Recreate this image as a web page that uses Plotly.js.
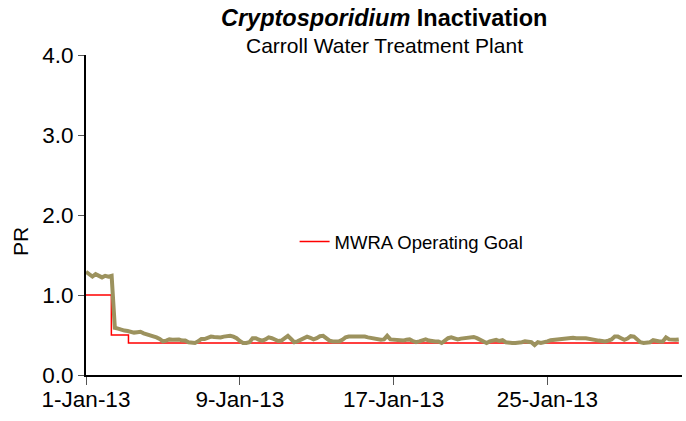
<!DOCTYPE html>
<html>
<head>
<meta charset="utf-8">
<script src="https://cdn.plot.ly/plotly-3.0.1.min.js"></script>
<style>html,body{margin:0;padding:0;background:#fff;}#chart{width:686px;height:421px;}</style>
</head>
<body>
<div id="chart"></div>
<script>
// PR values every 4 hours (00,04,08,12,16,20), one row per day, starting 1-Jan-2013
const startDate = '2013-01-01';
const stepHours = 4;
const prValues = [
  1.29, 1.26, 1.23, 1.26, 1.24, 1.22,   // 1-Jan
  1.24, 1.23, 1.24, 0.59, 0.58, 0.565,  // 2-Jan
  0.555, 0.55, 0.54, 0.53, 0.535, 0.54, // 3-Jan
  0.52, 0.51, 0.50, 0.49, 0.47, 0.45,   // 4-Jan
  0.42, 0.43, 0.445, 0.44, 0.44, 0.445, // 5-Jan
  0.43, 0.43, 0.41, 0.40, 0.40, 0.42,   // 6-Jan
  0.45, 0.45, 0.46, 0.48, 0.475, 0.47,  // 7-Jan
  0.47, 0.48, 0.49, 0.49, 0.48, 0.46,   // 8-Jan
  0.425, 0.40, 0.40, 0.41, 0.46, 0.46,  // 9-Jan
  0.44, 0.43, 0.445, 0.47, 0.46, 0.44,  // 10-Jan
  0.425, 0.43, 0.46, 0.49, 0.45, 0.41,  // 11-Jan
  0.42, 0.44, 0.46, 0.48, 0.465, 0.445, // 12-Jan
  0.46, 0.485, 0.49, 0.465, 0.43, 0.42, // 13-Jan
  0.42, 0.42, 0.44, 0.47, 0.48, 0.48,   // 14-Jan
  0.48, 0.49, 0.49, 0.48, 0.47, 0.46,   // 15-Jan
  0.45, 0.445, 0.44, 0.445, 0.49, 0.445,// 16-Jan
  0.44, 0.43, 0.43, 0.43, 0.44, 0.445,  // 17-Jan
  0.425, 0.41, 0.42, 0.43, 0.445, 0.43, // 18-Jan
  0.42, 0.42, 0.42, 0.40, 0.43, 0.46,   // 19-Jan
  0.47, 0.455, 0.445, 0.455, 0.46, 0.46,// 20-Jan
  0.47, 0.475, 0.46, 0.44, 0.41, 0.40,  // 21-Jan
  0.42, 0.43, 0.44, 0.425, 0.435, 0.41, // 22-Jan
  0.40, 0.40, 0.40, 0.40, 0.41, 0.42,   // 23-Jan
  0.41, 0.41, 0.375, 0.41, 0.40, 0.405, // 24-Jan
  0.42, 0.435, 0.44, 0.44, 0.44, 0.45,  // 25-Jan
  0.46, 0.465, 0.465, 0.46, 0.465, 0.46,// 26-Jan
  0.46, 0.45, 0.44, 0.43, 0.43, 0.425,  // 27-Jan
  0.42, 0.43, 0.445, 0.48, 0.48, 0.46,  // 28-Jan
  0.44, 0.455, 0.485, 0.48, 0.445, 0.41,// 29-Jan
  0.40, 0.40, 0.41, 0.435, 0.425, 0.42, // 30-Jan
  0.42, 0.47, 0.445, 0.44, 0.44, 0.445  // 31-Jan
];

// MWRA operating goal (step changes)
const goalDates  = ['2013-01-01 00:00', '2013-01-02 07:40', '2013-01-03 05:00', '2013-01-31 20:00'];
const goalValues = [1.0, 0.5, 0.4, 0.4];

const xTickVals = ['2013-01-01', '2013-01-09', '2013-01-17', '2013-01-25'];
const xTickText = ['1-Jan-13', '9-Jan-13', '17-Jan-13', '25-Jan-13'];
const yTickVals = [0, 1, 2, 3, 4];
const yTickText = ['0.0', '1.0', '2.0', '3.0', '4.0'];

function pad(n){return (n<10?'0':'')+n;}
const t0 = new Date(startDate + 'T00:00:00Z').getTime();
const prDates = prValues.map((v,i)=>{
  const d = new Date(t0 + i*stepHours*3600000);
  return d.getUTCFullYear()+'-'+pad(d.getUTCMonth()+1)+'-'+pad(d.getUTCDate())+' '+pad(d.getUTCHours())+':00';
});

const FONT = 'Liberation Sans, Arial, sans-serif';

const traces = [
  {x: goalDates, y: goalValues, type:'scatter', mode:'lines', line:{color:'#FF0000', width:1.5, shape:'hv'},
   name:'MWRA Operating Goal', showlegend:true},
  {x: prDates, y: prValues, type:'scatter', mode:'lines', line:{color:'#9C925E', width:4},
   name:'PR', showlegend:false}
];

const layout = {
  width:686, height:421,
  margin:{l:86, r:4, t:55, b:46},
  paper_bgcolor:'#fff', plot_bgcolor:'#fff',
  font:{family:FONT, size:22, color:'#000'},
  showlegend:true,
  legend:{x:0.35, y:0.416, xanchor:'left', yanchor:'middle', bgcolor:'rgba(0,0,0,0)',
          font:{family:FONT, size:18.5, color:'#000'}},
  xaxis:{type:'date', range:['2013-01-01','2013-02-01'], tickvals:xTickVals, ticktext:xTickText,
         showgrid:false, zeroline:false, showline:true, linecolor:'#000', linewidth:2,
         ticks:'outside', ticklen:8, tickcolor:'#555', tickwidth:1, ticklabelstandoff:-5,
         tickfont:{family:FONT, size:22.5, color:'#000'}},
  yaxis:{range:[0,4], tickvals:yTickVals, ticktext:yTickText,
         showgrid:false, zeroline:false, showline:true, linecolor:'#000', linewidth:2,
         ticks:'outside', ticklen:6, tickcolor:'#555', tickwidth:1,
         tickfont:{family:FONT, size:22.5, color:'#000'}},
  annotations:[
    {text:'<b><i>Cryptosporidium</i> Inactivation</b>', xref:'paper', yref:'paper', x:0.5, y:(375-18)/320,
     xanchor:'center', yanchor:'middle', showarrow:false, font:{family:FONT, size:23.5, color:'#000'}},
    {text:'Carroll Water Treatment Plant', xref:'paper', yref:'paper', x:0.5, y:(375-45)/320,
     xanchor:'center', yanchor:'middle', showarrow:false, font:{family:FONT, size:21, color:'#000'}},
    {text:'PR', xref:'paper', yref:'paper', x:(20-86)/596, y:(375-242)/320, textangle:-90,
     xanchor:'center', yanchor:'middle', showarrow:false, font:{family:FONT, size:21, color:'#000'}}
  ]
};

Plotly.newPlot('chart', traces, layout, {displayModeBar:false, staticPlot:true});
</script>
</body>
</html>
